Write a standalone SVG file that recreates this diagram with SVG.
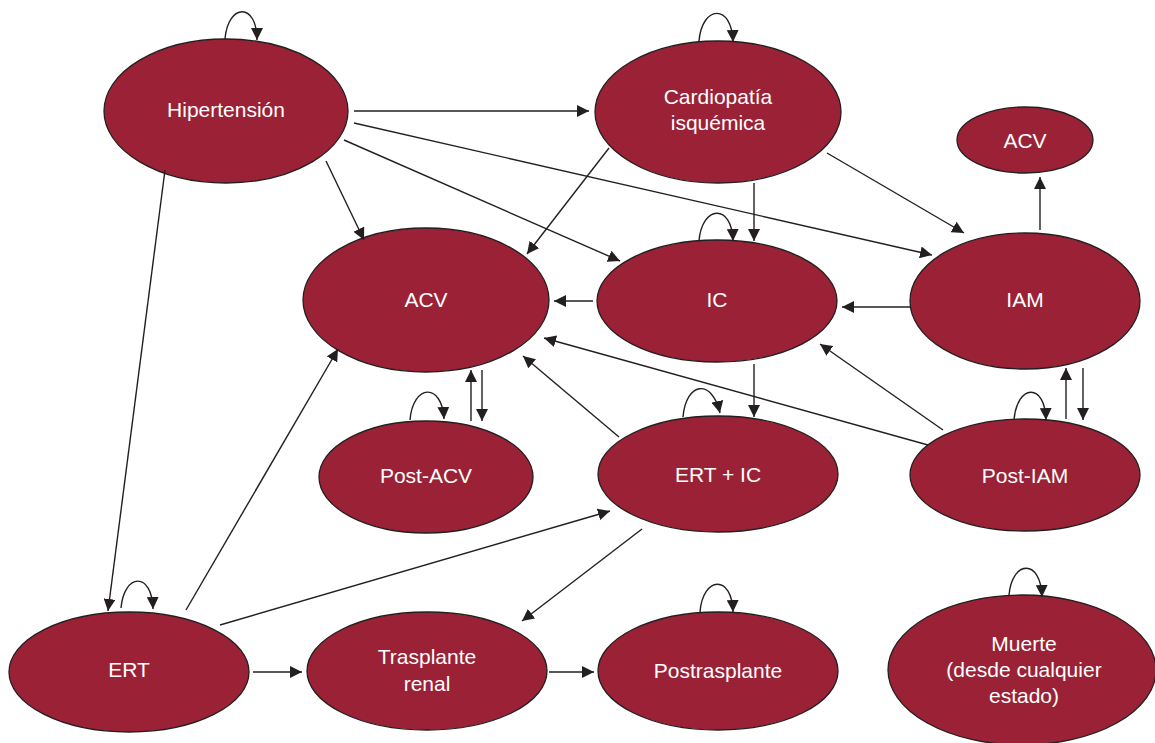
<svg xmlns="http://www.w3.org/2000/svg" width="1155" height="743" viewBox="0 0 1155 743">
<defs>
<marker id="ah" viewBox="0 0 12 12" refX="12" refY="6" markerWidth="12" markerHeight="12" markerUnits="userSpaceOnUse" orient="auto">
<path d="M0,0 L12,6 L0,12 z" fill="#231f20"/>
</marker>
</defs>
<style>
.n ellipse{fill:#9b2236;stroke:#231f20;stroke-width:1.3}
.n text{fill:#ffffff;font-family:"Liberation Sans",Arial,sans-serif;font-size:21px;text-anchor:middle}
.e path,.e line{fill:none;stroke:#231f20;stroke-width:1.4;marker-end:url(#ah)}
</style>
<rect width="1155" height="743" fill="#ffffff"/>
<g id="n-hipertension" class="n"><ellipse cx="226" cy="111" rx="122" ry="72"/><text x="226" y="117">Hipertensión</text></g>
<g id="n-cardiopatia" class="n"><ellipse cx="718" cy="112" rx="123" ry="71"/><text x="718" y="104">Cardiopatía</text><text x="718" y="130">isquémica</text></g>
<g id="n-acv-small" class="n"><ellipse cx="1025" cy="140" rx="68" ry="33"/><text x="1025" y="148">ACV</text></g>
<g id="n-acv" class="n"><ellipse cx="426" cy="300" rx="123" ry="72"/><text x="426" y="307">ACV</text></g>
<g id="n-ic" class="n"><ellipse cx="717" cy="301" rx="120" ry="61"/><text x="717" y="307">IC</text></g>
<g id="n-iam" class="n"><ellipse cx="1025" cy="301" rx="115" ry="68"/><text x="1025" y="307">IAM</text></g>
<g id="n-postacv" class="n"><ellipse cx="426" cy="477" rx="107" ry="56"/><text x="426" y="483">Post-ACV</text></g>
<g id="n-ertic" class="n"><ellipse cx="718" cy="474" rx="120" ry="58"/><text x="718" y="482">ERT + IC</text></g>
<g id="n-postiam" class="n"><ellipse cx="1025" cy="475" rx="115" ry="56"/><text x="1025" y="483">Post-IAM</text></g>
<g id="n-ert" class="n"><ellipse cx="129" cy="672" rx="120" ry="60"/><text x="129" y="677">ERT</text></g>
<g id="n-trasplante" class="n"><ellipse cx="427" cy="671" rx="120" ry="59"/><text x="427" y="664">Trasplante</text><text x="427" y="691">renal</text></g>
<g id="n-postrasplante" class="n"><ellipse cx="718" cy="671" rx="120" ry="59"/><text x="718" y="678">Postrasplante</text></g>
<g id="n-muerte" class="n"><ellipse cx="1022" cy="670" rx="134" ry="75"/><text x="1024" y="651">Muerte</text><text x="1024" y="677">(desde cualquier</text><text x="1024" y="703">estado)</text></g>
<g id="connectors" class="e">
<path d="M225,39 C228,3 257,2 257,40"/>
<path d="M699,41 C702,5 732,3 733,42"/>
<path d="M699,241 C702,205 732,203 733,241"/>
<path d="M683,417 C686,382 712,378 720,413"/>
<path d="M410,420 C413,384 442,382 444,419"/>
<path d="M1014,420 C1017,384 1045,382 1046,420"/>
<path d="M121,608 C124,573 152,571 153,609"/>
<path d="M700,612 C703,576 732,574 733,612"/>
<path d="M1009,595 C1012,560 1041,558 1042,597"/>
<line x1="354" y1="111" x2="589" y2="111"/>
<line x1="354" y1="123" x2="932" y2="255"/>
<line x1="344" y1="140" x2="620" y2="261"/>
<line x1="326" y1="161" x2="364" y2="240"/>
<line x1="165" y1="170" x2="108" y2="611"/>
<line x1="609" y1="148" x2="527" y2="254"/>
<line x1="754" y1="183" x2="754" y2="241"/>
<line x1="827" y1="153" x2="964" y2="233"/>
<line x1="1040" y1="230" x2="1040" y2="177"/>
<line x1="593" y1="301" x2="554" y2="301"/>
<line x1="910" y1="307" x2="842" y2="307"/>
<line x1="754" y1="364" x2="754" y2="417"/>
<line x1="619" y1="437" x2="523" y2="356"/>
<line x1="943" y1="430" x2="820" y2="344"/>
<line x1="928" y1="445" x2="544" y2="338"/>
<line x1="471" y1="421" x2="471" y2="370"/>
<line x1="482" y1="370" x2="482" y2="421"/>
<line x1="1066" y1="419" x2="1066" y2="368"/>
<line x1="1083" y1="368" x2="1083" y2="420"/>
<line x1="186" y1="610" x2="338" y2="349"/>
<line x1="220" y1="625" x2="610" y2="511"/>
<line x1="642" y1="529" x2="522" y2="621"/>
<line x1="253" y1="672" x2="302" y2="672"/>
<line x1="549" y1="672" x2="594" y2="672"/>
</g>
</svg>
